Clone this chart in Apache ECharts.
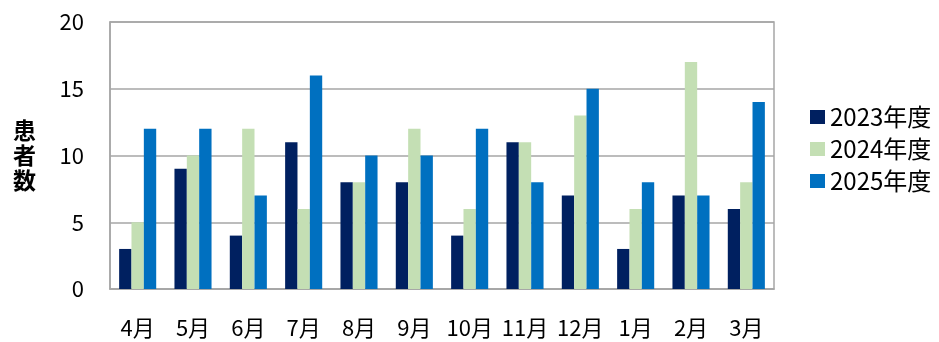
<!DOCTYPE html>
<html>
<head>
<meta charset="utf-8">
<script src="https://cdn.jsdelivr.net/npm/echarts@6/dist/echarts.min.js"></script>
<style>
  html, body { margin: 0; padding: 0; background: #fff; }
  #chart { width: 939px; height: 342px; }
</style>
</head>
<body>
<div id="chart"></div>
<script>
// Monthly patient counts by fiscal year (April to March)
const months = ['4月', '5月', '6月', '7月', '8月', '9月', '10月', '11月', '12月', '1月', '2月', '3月'];
const fy2023 = [3, 9, 4, 11, 8, 8, 4, 11, 7, 3, 7, 6];
const fy2024 = [5, 10, 12, 6, 8, 12, 6, 11, 13, 6, 17, 8];
const fy2025 = [12, 12, 7, 16, 10, 10, 12, 8, 15, 8, 7, 14];
const seriesNames = ['2023年度', '2024年度', '2025年度'];
const yTicks = [0, 5, 10, 15, 20];

const FONT = '"Noto Sans CJK JP", "Noto Sans", sans-serif';
const colors = ['#002060', '#C4DFB4', '#0070C0'];

const chart = echarts.init(document.getElementById('chart'), null, { renderer: 'canvas' });

chart.setOption({
  animation: false,
  backgroundColor: '#ffffff',
  color: colors,
  textStyle: { fontFamily: FONT },
  grid: {
    left: 110, right: 165, top: 22, bottom: 53,
    show: true, borderColor: '#a6a6a6', borderWidth: 1.5, backgroundColor: 'transparent'
  },
  legend: {
    orient: 'vertical',
    left: 805, top: 100,
    itemWidth: 15, itemHeight: 14, itemGap: 8,
    icon: 'rect',
    textStyle: { fontSize: 24, color: '#000', fontFamily: FONT, padding: [0, 0, 0, 0] },
    data: seriesNames
  },
  xAxis: {
    type: 'category',
    data: months,
    axisTick: { show: false },
    axisLine: { lineStyle: { color: '#a6a6a6', width: 1.5 } },
    axisLabel: { color: '#000', fontSize: 22, margin: 28, interval: 0, fontFamily: FONT }
  },
  yAxis: {
    type: 'value',
    min: yTicks[0], max: yTicks[yTicks.length - 1], interval: 5,
    name: '患\n者\n数',
    nameLocation: 'middle',
    nameGap: 74,
    nameRotate: 0,
    nameTextStyle: { fontSize: 23, fontWeight: 'bold', color: '#000', lineHeight: 25, fontFamily: FONT },
    axisLine: { show: true, lineStyle: { color: '#a6a6a6', width: 1.5 } },
    axisTick: { show: false },
    splitLine: { lineStyle: { color: '#a6a6a6', width: 1.5 } },
    axisLabel: { color: '#000', fontSize: 22, margin: 26, fontFamily: FONT }
  },
  series: [
    { name: seriesNames[0], type: 'bar', data: fy2023, barGap: '0%', barCategoryGap: '33%' },
    { name: seriesNames[1], type: 'bar', data: fy2024, barGap: '0%', barCategoryGap: '33%' },
    { name: seriesNames[2], type: 'bar', data: fy2025, barGap: '0%', barCategoryGap: '33%' }
  ]
});
</script>
</body>
</html>
